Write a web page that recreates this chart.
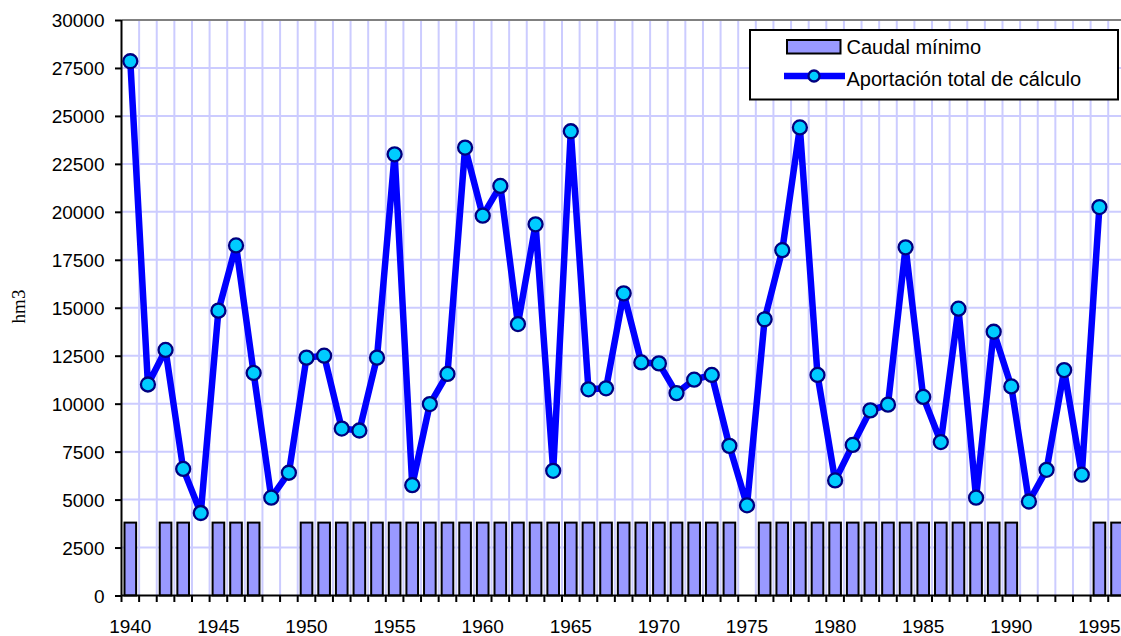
<!DOCTYPE html>
<html lang="es">
  <head>
    <meta charset="utf-8" />
    <script src="https://d3js.org/d3.v7.min.js"></script>
    <style>
      body {
        margin: 0;
        background-color: #fff;
      }

      .sans {
        font-family: "Liberation Sans", Arial, sans-serif;
        fill: #000;
      }

      .serif {
        font-family: "Liberation Serif", "Times New Roman", serif;
        fill: #000;
      }

      .grid {
        stroke: #ccccff;
        stroke-width: 2px;
      }

      .bar {
        fill: #9999ff;
        stroke: #000;
        stroke-width: 2px;
      }

      .serie {
        fill: none;
        stroke: #0000ff;
        stroke-width: 6.5px;
        stroke-linejoin: round;
      }

      .marker {
        fill: #00ccff;
        stroke: #000080;
        stroke-width: 2.3px;
      }
    </style>
  </head>
  <body>
    <div id="chart"></div>

    <script>
      const years = [
        1940, 1941, 1942, 1943, 1944, 1945, 1946, 1947, 1948, 1949,
        1950, 1951, 1952, 1953, 1954, 1955, 1956, 1957, 1958, 1959,
        1960, 1961, 1962, 1963, 1964, 1965, 1966, 1967, 1968, 1969,
        1970, 1971, 1972, 1973, 1974, 1975, 1976, 1977, 1978, 1979,
        1980, 1981, 1982, 1983, 1984, 1985, 1986, 1987, 1988, 1989,
        1990, 1991, 1992, 1993, 1994, 1995, 1996
      ];

      // Caudal mínimo (0 = no se cumple ese año)
      const caudalMinimo = [
        3800, 0, 3800, 3800, 0, 3800, 3800, 3800, 0, 0,
        3800, 3800, 3800, 3800, 3800, 3800, 3800, 3800, 3800, 3800,
        3800, 3800, 3800, 3800, 3800, 3800, 3800, 3800, 3800, 3800,
        3800, 3800, 3800, 3800, 3800, 0, 3800, 3800, 3800, 3800,
        3800, 3800, 3800, 3800, 3800, 3800, 3800, 3800, 3800, 3800,
        3800, 0, 0, 0, 0, 3800, 3800
      ];

      // Aportación total de cálculo, 1940-1995
      const aportacion = [
        27850, 11000, 12800, 6600, 4300, 14850, 18250, 11600, 5100, 6400,
        12400, 12500, 8700, 8600, 12400, 23000, 5750, 9980, 11550, 23350,
        19800, 21350, 14150, 19350, 6500, 24200, 10750, 10800, 15750, 12150,
        12100, 10550, 11250, 11500, 7800, 4700, 14400, 18000, 24400, 11500,
        6000, 7850, 9650, 9950, 18150, 10350, 8000, 14950, 5100, 13750,
        10900, 4900, 6550, 11750, 6300, 20250
      ];

      const yTicks = [
        0, 2500, 5000, 7500, 10000, 12500, 15000, 17500, 20000, 22500,
        25000, 27500, 30000
      ];
      const xLabels = [1940, 1945, 1950, 1955, 1960, 1965, 1970, 1975, 1980, 1985, 1990, 1995];
      const seriesNames = ["Caudal mínimo", "Aportación total de cálculo"];

      const width = 1121;
      const height = 636;
      const margin = { top: 20, left: 121.5, bottom: 40.5 };
      const step = 17.62;

      const svg = d3
        .select("#chart")
        .append("svg")
        .attr("width", width)
        .attr("height", height);

      const x = d3
        .scaleBand()
        .domain(years)
        .range([margin.left, margin.left + years.length * step])
        .padding(0);

      const y = d3
        .scaleLinear()
        .domain([0, 30000])
        .range([height - margin.bottom, margin.top]);

      const x0 = margin.left;
      const x1 = width + 10;

      // rejilla horizontal
      svg
        .append("g")
        .selectAll("line")
        .data(yTicks.filter((d) => d > 0 && d < 30000))
        .join("line")
        .attr("class", "grid")
        .attr("x1", x0)
        .attr("x2", x1)
        .attr("y1", (d) => y(d))
        .attr("y2", (d) => y(d));

      // rejilla vertical (limites de cada año)
      svg
        .append("g")
        .selectAll("line")
        .data(years.slice(1))
        .join("line")
        .attr("class", "grid")
        .attr("x1", (d) => x(d))
        .attr("x2", (d) => x(d))
        .attr("y1", y(30000))
        .attr("y2", y(0));

      // borde superior del area de trazado
      svg
        .append("line")
        .attr("x1", x0)
        .attr("x2", x1)
        .attr("y1", y(30000))
        .attr("y2", y(30000))
        .attr("stroke", "#808080")
        .attr("stroke-width", 2);

      // barras
      const barW = x.bandwidth() * 0.66;
      svg
        .append("g")
        .selectAll("rect")
        .data(years.map((d, i) => ({ year: d, value: caudalMinimo[i] })).filter((d) => d.value > 0))
        .join("rect")
        .attr("class", "bar")
        .attr("x", (d) => x(d.year) + (x.bandwidth() - barW) / 2)
        .attr("width", barW)
        .attr("y", (d) => y(d.value))
        .attr("height", (d) => y(0) - y(d.value));

      // linea
      const puntos = aportacion.map((v, i) => ({ year: years[i], value: v }));
      const line = d3
        .line()
        .x((d) => x(d.year) + x.bandwidth() / 2)
        .y((d) => y(d.value));

      svg.append("path").datum(puntos).attr("class", "serie").attr("d", line);

      svg
        .append("g")
        .selectAll("circle")
        .data(puntos)
        .join("circle")
        .attr("class", "marker")
        .attr("cx", (d) => x(d.year) + x.bandwidth() / 2)
        .attr("cy", (d) => y(d.value))
        .attr("r", 7);

      // eje Y
      const yAxis = svg
        .append("g")
        .attr("transform", `translate(${x0},0)`)
        .call(
          d3
            .axisLeft(y)
            .tickValues(yTicks)
            .tickFormat(d3.format("d"))
            .tickSize(6.5)
            .tickPadding(10.5)
        );
      yAxis.selectAll("path, line").attr("stroke", "#000").attr("stroke-width", 2);
      yAxis.select(".domain").attr("d", `M0,${y(30000)}V${y(0)}`);
      yAxis
        .selectAll("text")
        .attr("class", "sans")
        .attr("font-size", 19)
        .attr("dy", "0.35em");
      yAxis.attr("font-family", null);

      // eje X
      const xAxisG = svg.append("g");
      xAxisG
        .append("line")
        .attr("x1", x0)
        .attr("x2", x1)
        .attr("y1", y(0))
        .attr("y2", y(0))
        .attr("stroke", "#000")
        .attr("stroke-width", 2);
      xAxisG
        .selectAll(".tick")
        .data(years)
        .join("line")
        .attr("class", "tick")
        .attr("x1", (d) => x(d))
        .attr("x2", (d) => x(d))
        .attr("y1", y(0))
        .attr("y2", y(0) + 6.5)
        .attr("stroke", "#000")
        .attr("stroke-width", 2);
      xAxisG
        .selectAll("text")
        .data(xLabels)
        .join("text")
        .attr("class", "sans")
        .attr("x", (d) => x(d) + x.bandwidth() / 2)
        .attr("y", 633)
        .attr("text-anchor", "middle")
        .attr("font-size", 19)
        .text((d) => d);

      // titulo eje Y
      svg
        .append("text")
        .attr("class", "serif")
        .attr("transform", "translate(25,306.5) rotate(-90)")
        .attr("text-anchor", "middle")
        .attr("font-size", 19)
        .text("hm3");

      // leyenda
      const legend = svg.append("g");
      legend
        .append("rect")
        .attr("x", 750)
        .attr("y", 30)
        .attr("width", 368)
        .attr("height", 69.5)
        .attr("fill", "#fff")
        .attr("stroke", "#000")
        .attr("stroke-width", 2);

      legend
        .append("rect")
        .attr("class", "bar")
        .attr("x", 787)
        .attr("y", 40)
        .attr("width", 53.5)
        .attr("height", 13.5);

      legend
        .append("line")
        .attr("x1", 784)
        .attr("x2", 845)
        .attr("y1", 76)
        .attr("y2", 76)
        .attr("stroke", "#0000ff")
        .attr("stroke-width", 6.5);

      legend
        .append("circle")
        .attr("class", "marker")
        .attr("cx", 814)
        .attr("cy", 76)
        .attr("r", 5.5);

      legend
        .selectAll("text")
        .data(seriesNames)
        .join("text")
        .attr("class", "sans")
        .attr("x", 846.5)
        .attr("y", (d, i) => 54 + i * 31.8)
        .attr("font-size", 20)
        .text((d) => d);
    </script>
  </body>
</html>
